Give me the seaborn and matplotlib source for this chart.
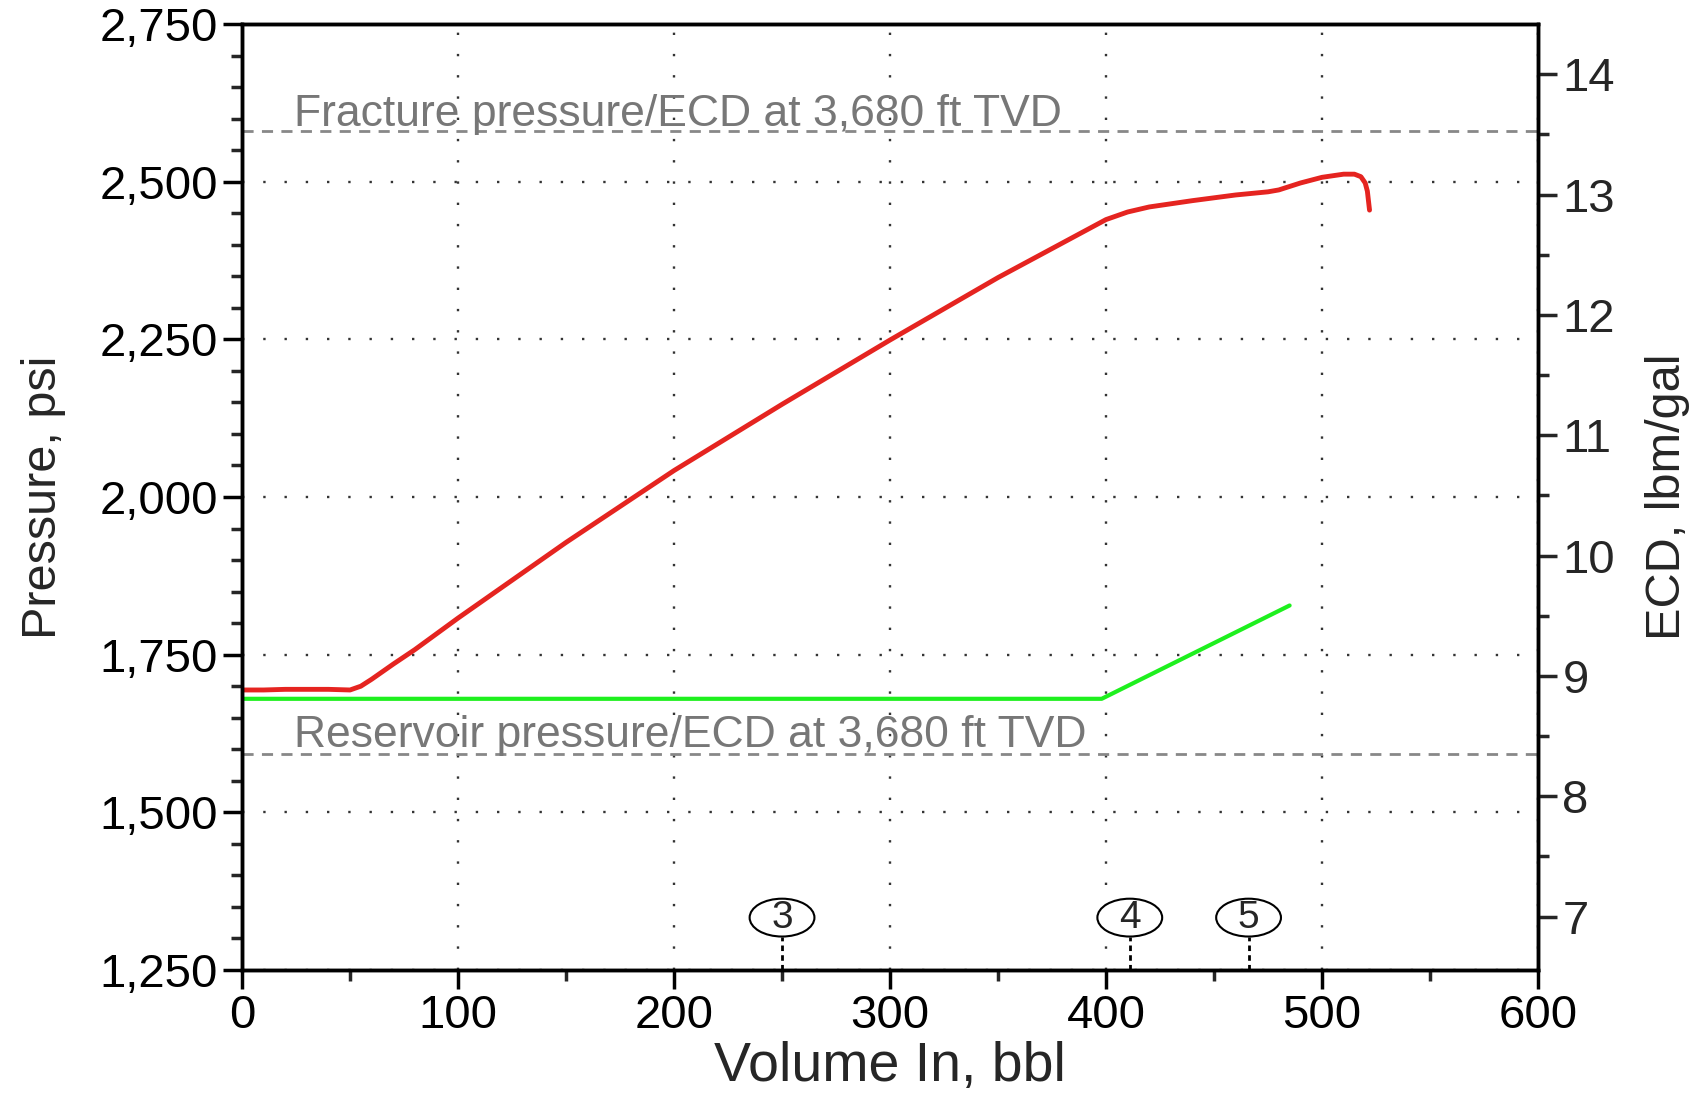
import numpy as np
import pandas as pd
import seaborn as sns
import matplotlib
matplotlib.use("Agg")
from matplotlib import pyplot as plt
from matplotlib.patches import Ellipse
from matplotlib.ticker import MultipleLocator, FuncFormatter

# data
red_vol = [0, 10, 20, 30, 40, 50, 55, 60, 70, 80, 100, 150, 200, 250, 300, 350,
           400, 410, 420, 440, 460, 475, 480, 490, 500, 510, 515, 518, 520, 521, 522]
red_psi = [1694, 1694, 1695, 1695, 1695, 1694, 1700, 1711, 1735, 1758, 1808, 1928,
           2042, 2147, 2249, 2348, 2440, 2452, 2460, 2470, 2479, 2484, 2487, 2498,
           2507, 2512, 2512, 2508, 2498, 2485, 2455]
green_vol = [0, 398, 485]
green_psi = [1680, 1680, 1828]

frac_psi = 2580
res_psi = 1593
frac_label = "Fracture pressure/ECD at 3,680 ft TVD"
res_label = "Reservoir pressure/ECD at 3,680 ft TVD"

event_names = ["3", "4", "5"]
event_vol = [250, 411, 466]

ecd_lim = (6.557, 14.416)
ecd_ticks = [7, 8, 9, 10, 11, 12, 13, 14]

df_red = pd.DataFrame({"vol": red_vol, "psi": red_psi})
df_green = pd.DataFrame({"vol": green_vol, "psi": green_psi})

sns.set_style("ticks")
plt.rcParams["font.family"] = ["Liberation Sans", "DejaVu Sans"]

fig, ax = plt.subplots(figsize=(17.07, 10.95), dpi=100)
fig.subplots_adjust(left=0.1418, right=0.901, top=0.978, bottom=0.1142)

ax.grid(True, which="major", color="#333333", linestyle=(0, (1, 8)), linewidth=1.7)

ax.axhline(frac_psi, color="#888888", linestyle=(0, (4, 3)), linewidth=2)
ax.axhline(res_psi, color="#888888", linestyle=(0, (4, 3)), linewidth=2)
ax.text(24, frac_psi + 8, frac_label, color="#777777", fontsize=32, va="baseline")
ax.text(24, res_psi + 10, res_label, color="#777777", fontsize=32, va="baseline")

sns.lineplot(data=df_green, x="vol", y="psi", ax=ax, color="#1ef01e", linewidth=3, sort=False)
sns.lineplot(data=df_red, x="vol", y="psi", ax=ax, color="#e52420", linewidth=3.5, sort=False)

for name, v in zip(event_names, event_vol):
    ax.vlines(v, 1250, 1303, colors="black", linestyles=(0, (2, 1.5)), linewidth=2)
    ax.add_patch(Ellipse((v, 1333), width=30, height=60, fc="white", ec="black", lw=1.5, zorder=5))
    ax.text(v, 1333, name, ha="center", va="center", fontsize=28, zorder=6)

ax.set_xlim(0, 600)
ax.set_ylim(1250, 2750)
ax.xaxis.set_major_locator(MultipleLocator(100))
ax.xaxis.set_minor_locator(MultipleLocator(50))
ax.yaxis.set_major_locator(MultipleLocator(250))
ax.yaxis.set_minor_locator(MultipleLocator(50))
ax.yaxis.set_major_formatter(FuncFormatter(lambda v, p: f"{v:,.0f}"))
ax.tick_params(which="major", direction="out", length=14, width=2.5, labelsize=34, colors="black")
ax.tick_params(which="minor", direction="out", length=8, width=2.5)
ax.set_xlabel("Volume In, bbl", fontsize=40, labelpad=2)
ax.set_ylabel("Pressure, psi", fontsize=35, labelpad=24)
for s in ax.spines.values():
    s.set_linewidth(2.5)
    s.set_color("black")

ax2 = ax.twinx()
ax2.set_ylim(*ecd_lim)
ax2.set_yticks(ecd_ticks)
ax2.yaxis.set_minor_locator(MultipleLocator(0.5))
ax2.tick_params(which="major", direction="out", length=14, width=2.5, labelsize=34)
ax2.tick_params(which="minor", direction="out", length=8, width=2.5)
ax2.set_ylabel("ECD, lbm/gal", fontsize=35, labelpad=22)
for s in ax2.spines.values():
    s.set_linewidth(2.5)
    s.set_color("black")

fig.savefig("out.png", dpi=100)
